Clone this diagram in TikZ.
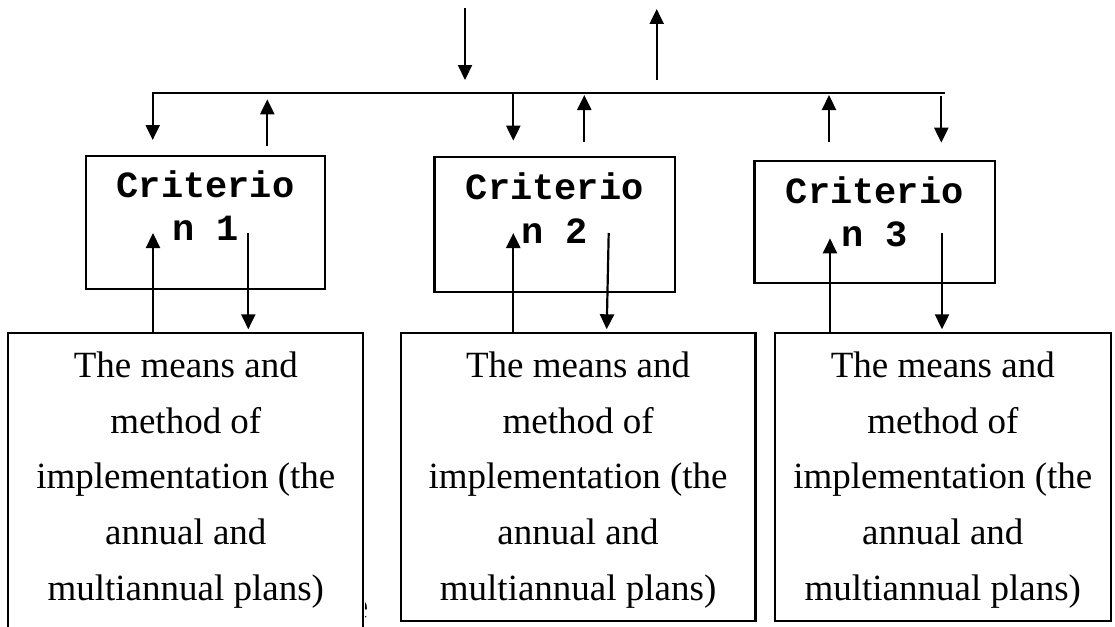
\documentclass[tikz,border=0pt]{standalone}
\usepackage{fontspec}
\setmainfont{Liberation Serif}
\newfontfamily\critfont{Liberation Mono}
\usetikzlibrary{arrows.meta}
\begin{document}
\begin{tikzpicture}[x=1pt,y=-1pt,line width=2.2pt,
  flow/.style={-{Triangle[width=14pt,length=15pt]}},
  boxed/.style={draw,rectangle,inner sep=0pt,line width=2.2pt},
  crittext/.style={font=\critfont\bfseries\fontsize{37}{43.4}\selectfont,
    align=center,anchor=base,inner sep=0pt},
  meanstext/.style={font=\fontsize{37}{55.6}\selectfont,
    align=center,anchor=base,inner sep=0pt}]
\useasboundingbox (0,0) rectangle (1115,626);
\clip (0,0) rectangle (1115,626);

% criterion boxes (text anchored on the baseline of its last line)
\node[boxed,minimum width=239.6pt,minimum height=133.6pt] (c1) at (205.5,222.5) {};
\node[boxed,minimum width=240.5pt,minimum height=134.4pt] (c2) at (554.75,224.5) {};
\node[boxed,minimum width=240.5pt,minimum height=122.3pt] (c3) at (874.75,222.15) {};
\node[crittext] (t1) at (205.5,240.7) {Criterio\\n 1};
\node[crittext] (t2) at (554.75,243) {Criterio\\n 2};
\node[crittext] (t3) at (874.75,246.7) {Criterio\\n 3};

% means and method boxes
\node[boxed,minimum width=355pt,minimum height=306.7pt] (m1) at (185.8,486.6) {};
\node[boxed,minimum width=354.8pt,minimum height=288pt] (m2) at (578.1,476.7) {};
\node[boxed,minimum width=336.4pt,minimum height=287.7pt] (m3) at (942.8,476.85) {};
\node[meanstext] (p1) at (185.8,600) {The means and\\method of\\implementation (the\\annual and\\multiannual plans)};
\node[meanstext] (p2) at (578.1,600) {The means and\\method of\\implementation (the\\annual and\\multiannual plans)};
\node[meanstext] (p3) at (942.8,600) {The means and\\method of\\implementation (the\\annual and\\multiannual plans)};

% partly hidden letter beside the first plan box
\begin{scope}
  \clip (365,580) rectangle (375,626);
  \node[font=\fontsize{37}{44}\selectfont,anchor=base,inner sep=0pt] (stray) at (360,618) {e};
\end{scope}

% top input and output
\coordinate (inTop) at (465,8);
\coordinate (inTip) at (465,80);
\coordinate (outBot) at (656.7,80);
\coordinate (outTip) at (656.7,9);
\draw[flow] (inTop) -- (inTip);
\draw[flow] (outBot) -- (outTip);

% distribution bus
\coordinate (busL) at (152.7,93.3);
\coordinate (busR) at (945,93.3);
\coordinate (d1) at (152.7,140);
\draw[flow] (busR) -- (busL) -- (d1);

\coordinate (u1a) at (267.3,145.7);
\coordinate (u1b) at (267.3,99.3);
\draw[flow] (u1a) -- (u1b);

\coordinate (d2a) at (513.3,93.3);
\coordinate (d2b) at (513.3,140.7);
\draw[flow] (d2a) -- (d2b);

\coordinate (u2a) at (584.3,141.7);
\coordinate (u2b) at (584.3,95);
\draw[flow] (u2a) -- (u2b);

\coordinate (u3a) at (829,141.7);
\coordinate (u3b) at (829,95);
\draw[flow] (u3a) -- (u3b);

\coordinate (d3a) at (941.3,96);
\coordinate (d3b) at (941.3,142.7);
\draw[flow] (d3a) -- (d3b);

% links between criteria and plans
\coordinate (r1up) at (153,233);
\coordinate (r1dn) at (248.3,233);
\coordinate (r1tip) at (248.3,329.3);
\draw[flow] (m1.north -| r1up) -- (r1up);
\draw[flow] (r1dn) -- (r1tip);

\coordinate (r2up) at (513.3,233);
\coordinate (r2dn) at (608.7,233);
\coordinate (r2tip) at (606.7,329.3);
\draw[flow] (m2.north -| r2up) -- (r2up);
\draw[flow] (r2dn) -- (r2tip);

\coordinate (r3up) at (830,238.3);
\coordinate (r3dn) at (942,233.3);
\coordinate (r3tip) at (942,329.3);
\draw[flow] (m3.north -| r3up) -- (r3up);
\draw[flow] (r3dn) -- (r3tip);
\end{tikzpicture}
\end{document}
